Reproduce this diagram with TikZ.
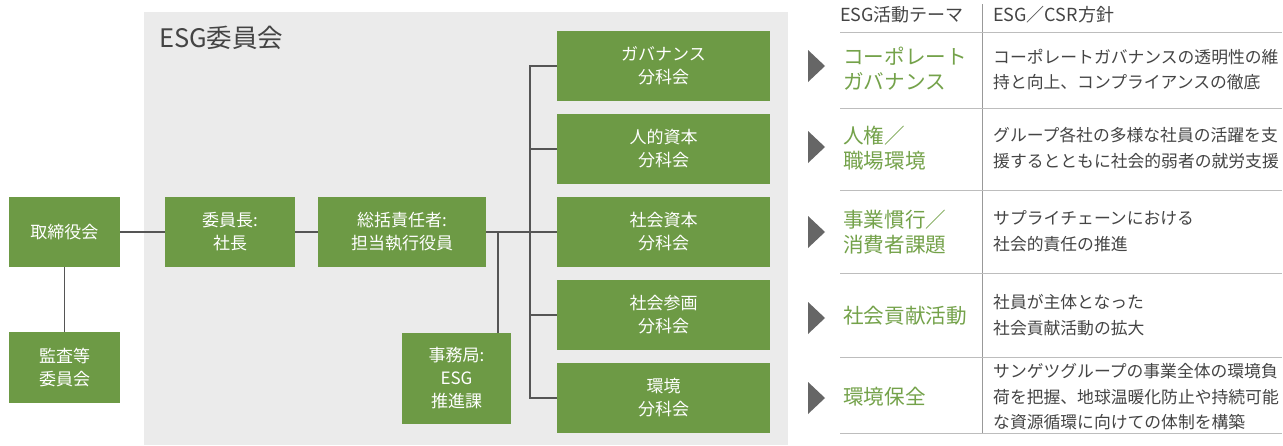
\documentclass[tikz,border=0pt]{standalone}
\usepackage{fontspec}
\setmainfont{Noto Sans CJK JP}
\definecolor{boxgreen}{HTML}{6D9A45}
\definecolor{themegreen}{HTML}{74A24A}
\definecolor{panelgray}{HTML}{EBEBEB}
\definecolor{linegray}{HTML}{555555}
\definecolor{rulegray}{HTML}{BDBDBD}
\definecolor{textgray}{HTML}{444444}
\definecolor{trigray}{HTML}{666666}
\begin{document}
\begin{tikzpicture}[x=1pt,y=-1pt,
  gbox/.style={rectangle, fill=boxgreen, text=white, align=center, inner sep=0pt,
    font=\fontsize{17}{23}\selectfont},
  conn/.style={draw=linegray, line width=1.3pt},
  tabrule/.style={draw=rulegray, line width=1pt},
  theme/.style={anchor=west, align=left, text=themegreen, inner sep=0pt,
    font=\fontsize{20.6}{25}\selectfont},
  desc/.style={anchor=west, align=left, text=textgray, inner sep=0pt,
    font=\fontsize{16.8}{25.5}\selectfont},
  head/.style={anchor=west, text=textgray, inner sep=0pt, font=\fontsize{18}{20}\selectfont},
  tri/.style={fill=trigray}
]
\useasboundingbox (0,0) rectangle (1283,445);
\fill[white] (0,0) rectangle (1283,445);
% panel
\fill[panelgray] (144,12) rectangle (788,445);
\node[anchor=west, text=textgray, inner sep=0pt, font=\fontsize{25.5}{28}\selectfont] (title) at (159,38) {ESG委員会};

% boxes
\node[gbox, minimum width=111pt, minimum height=70pt] (tori) at (64.5,232) {取締役会};
\node[gbox, minimum width=111pt, minimum height=71pt] (kansa) at (64.5,367.5) {監査等\\委員会};
\node[gbox, minimum width=130pt, minimum height=70pt] (iin) at (230,232) {委員長:\\社長};
\node[gbox, minimum width=168pt, minimum height=70pt] (sou) at (402,232) {総括責任者:\\担当執行役員};
\node[gbox, minimum width=109pt, minimum height=91pt] (jimu) at (456.5,378.5) {事務局:\\ESG\\推進課};
\node[gbox, minimum width=213pt, minimum height=70pt] (g1) at (663.5,66) {ガバナンス\\分科会};
\node[gbox, minimum width=213pt, minimum height=70pt] (g2) at (663.5,149) {人的資本\\分科会};
\node[gbox, minimum width=213pt, minimum height=70pt] (g3) at (663.5,232) {社会資本\\分科会};
\node[gbox, minimum width=213pt, minimum height=70pt] (g4) at (663.5,315) {社会参画\\分科会};
\node[gbox, minimum width=213pt, minimum height=70pt] (g5) at (663.5,398) {環境\\分科会};

% connectors
\coordinate (bus) at (530,232);
\coordinate (jtop) at (498,333);
\draw[conn] (tori.east) -- (iin.west);
\draw[conn] (tori.south) -- (kansa.north);
\draw[conn] (iin.east) -- (sou.west);
\draw[conn] (sou.east) -- (g3.west);
\draw[conn] (g1.west) -| (bus) |- (g5.west);
\draw[conn] (g2.west) -- (g2.west -| bus);
\draw[conn] (g4.west) -- (g4.west -| bus);
\draw[conn] (jtop) -- (jtop |- sou.east);

% table
\node[head] (h1) at (840,15) {ESG活動テーマ};
\node[head] (h2) at (993,15) {ESG／CSR方針};
\draw[draw=gray!80, line width=0.9pt] (982,4) -- (982,433);
\foreach \yy in {32,108,190,273,357,433}{
  \draw[tabrule] (840,\yy) -- (1282,\yy);
}
\foreach \yy in {66,147,232,318,398}{
  \fill[tri] (808,\yy-16) -- (825,\yy) -- (808,\yy+16) -- cycle;
}
\node[theme] (t1) at (843,69) {コーポレート\\ガバナンス};
\node[theme] (t2) at (843,148) {人権／\\職場環境};
\node[theme] (t3) at (843,232) {事業慣行／\\消費者課題};
\node[theme] (t4) at (843,316) {社会貢献活動};
\node[theme] (t5) at (843,397) {環境保全};

\node[desc] (d1) at (993,69.5) {コーポレートガバナンスの透明性の維\\持と向上、コンプライアンスの徹底};
\node[desc] (d2) at (993,148) {グループ各社の多様な社員の活躍を支\\援するとともに社会的弱者の就労支援};
\node[desc] (d3) at (993,231) {サプライチェーンにおける\\社会的責任の推進};
\node[desc] (d4) at (993,315) {社員が主体となった\\社会貢献活動の拡大};
\node[desc] (d5) at (993,397) {サンゲツグループの事業全体の環境負\\荷を把握、地球温暖化防止や持続可能\\な資源循環に向けての体制を構築};
\end{tikzpicture}
\end{document}
